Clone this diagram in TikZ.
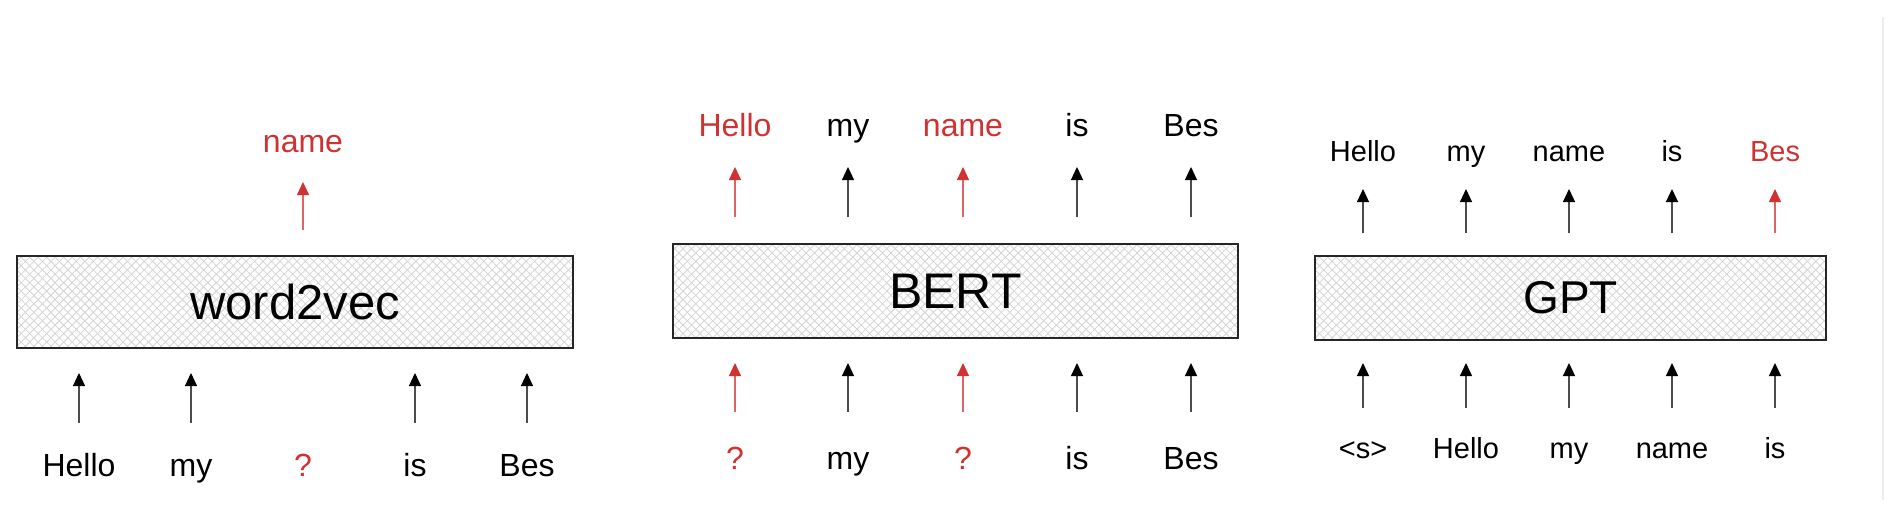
\documentclass[tikz,border=0pt]{standalone}
\usepackage{fontspec}
\setmainfont{Liberation Sans}
\usetikzlibrary{arrows.meta,patterns.meta}
\definecolor{myred}{RGB}{208,50,50}
\definecolor{hatchc}{RGB}{212,212,212}
\begin{document}
\begin{tikzpicture}[x=1pt,y=-1pt,
  lbl/.style={anchor=base, inner sep=0pt, font=\fontsize{32}{38}\selectfont},
  glbl/.style={anchor=base, inner sep=0pt, font=\fontsize{29}{35}\selectfont},
  arr/.style={-{Triangle[length=13pt,width=12pt,color=black]}, line width=1.1pt, black!70},
  rarr/.style={-{Triangle[length=13pt,width=12pt,color=myred]}, line width=1.1pt, myred!75},
  model/.style={draw=black!85, line width=2pt, inner sep=0pt,
    preaction={pattern={Lines[angle=45,distance=6pt,line width=0.8pt]}, pattern color=hatchc},
    pattern={Lines[angle=-45,distance=6pt,line width=0.8pt]}, pattern color=hatchc}
]
\useasboundingbox (0,0) rectangle (1900,516);
\fill[white] (0,0) rectangle (1900,516);
\draw[black!7, line width=2pt] (1883,17) -- (1883,500);

% ---------- word2vec ----------
\node[model, minimum width=556pt, minimum height=92pt, font=\fontsize{49}{58}\selectfont] (w2v) at (295,302) {word2vec};
\node[lbl, myred] (wt3) at (303,152) {name};
\coordinate (wta3s) at (303,230); \coordinate (wta3e) at (303,182);
\draw[rarr] (wta3s) -- (wta3e);
\node[lbl] (wb1) at (79,476) {Hello};
\node[lbl] (wb2) at (191,476) {my};
\node[lbl, myred] (wb3) at (303,476) {?};
\node[lbl] (wb4) at (415,476) {is};
\node[lbl] (wb5) at (527,476) {Bes};
\foreach \xx/\n in {79/1,191/2,415/4,527/5}{
  \coordinate (wba\n s) at (\xx,423); \coordinate (wba\n e) at (\xx,373);
  \draw[arr] (wba\n s) -- (wba\n e);
}

% ---------- BERT ----------
\node[model, minimum width=565pt, minimum height=94pt, font=\fontsize{50}{60}\selectfont] (bert) at (955.5,291) {BERT};
\node[lbl, myred] (bt1) at (735,137) {Hello};
\node[lbl] (bt2) at (848,137) {my};
\node[lbl, myred] (bt3) at (963,137) {name};
\node[lbl] (bt4) at (1077,137) {is};
\node[lbl] (bt5) at (1191,137) {Bes};
\node[lbl, myred] (bb1) at (735,469) {?};
\node[lbl] (bb2) at (848,469) {my};
\node[lbl, myred] (bb3) at (963,469) {?};
\node[lbl] (bb4) at (1077,469) {is};
\node[lbl] (bb5) at (1191,469) {Bes};
\foreach \xx/\n/\st in {735/1/rarr,848/2/arr,963/3/rarr,1077/4/arr,1191/5/arr}{
  \coordinate (bta\n s) at (\xx,217); \coordinate (bta\n e) at (\xx,167);
  \draw[\st] (bta\n s) -- (bta\n e);
  \coordinate (bba\n s) at (\xx,412); \coordinate (bba\n e) at (\xx,363);
  \draw[\st] (bba\n s) -- (bba\n e);
}

% ---------- GPT ----------
\node[model, minimum width=511pt, minimum height=84pt, font=\fontsize{46}{55}\selectfont] (gpt) at (1570.5,298) {GPT};
\node[glbl] (gt1) at (1363,161) {Hello};
\node[glbl] (gt2) at (1466,161) {my};
\node[glbl] (gt3) at (1569,161) {name};
\node[glbl] (gt4) at (1672,161) {is};
\node[glbl, myred] (gt5) at (1775,161) {Bes};
\node[glbl] (gb1) at (1363,458) {<s>};
\node[glbl] (gb2) at (1466,458) {Hello};
\node[glbl] (gb3) at (1569,458) {my};
\node[glbl] (gb4) at (1672,458) {name};
\node[glbl] (gb5) at (1775,458) {is};
\foreach \xx/\n/\st in {1363/1/arr,1466/2/arr,1569/3/arr,1672/4/arr,1775/5/rarr}{
  \coordinate (gta\n s) at (\xx,233); \coordinate (gta\n e) at (\xx,189);
  \draw[\st] (gta\n s) -- (gta\n e);
}
\foreach \xx/\n in {1363/1,1466/2,1569/3,1672/4,1775/5}{
  \coordinate (gba\n s) at (\xx,408); \coordinate (gba\n e) at (\xx,363);
  \draw[arr] (gba\n s) -- (gba\n e);
}
\end{tikzpicture}
\end{document}
